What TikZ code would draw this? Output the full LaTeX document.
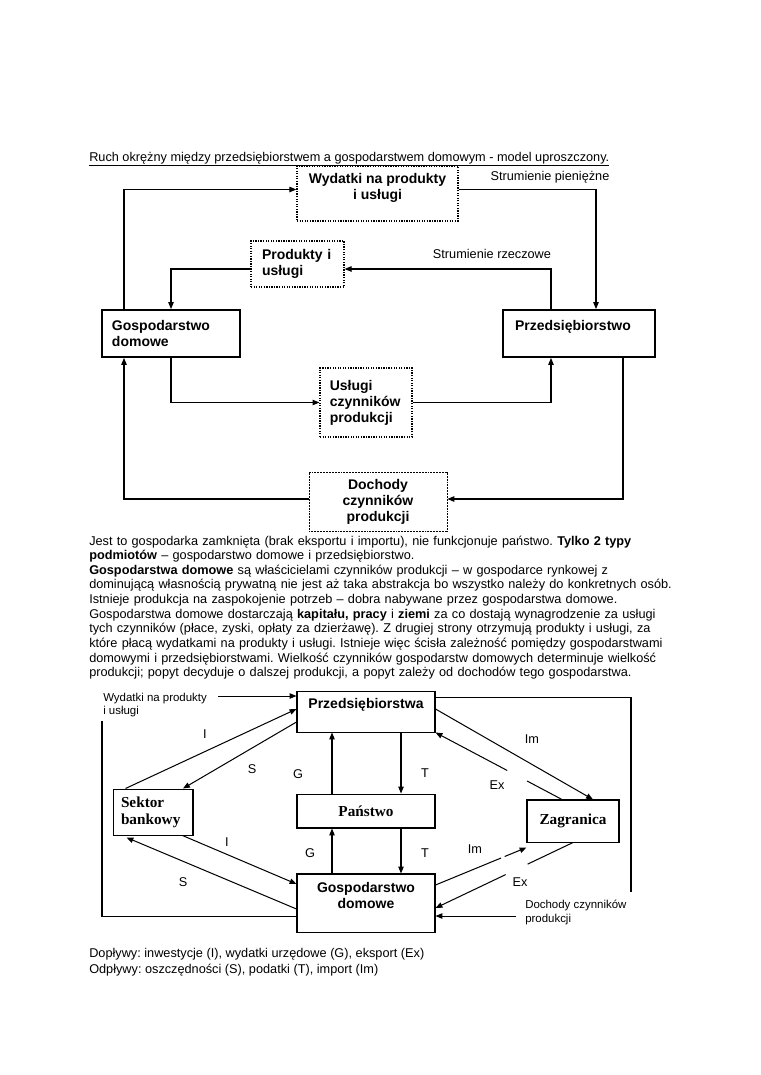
\documentclass[tikz,border=0pt]{standalone}
\usepackage{fontspec}
\setmainfont{Liberation Sans}
\newfontfamily\tnr{Liberation Serif}
\usetikzlibrary{arrows.meta, positioning, calc}
\frenchspacing

\begin{document}
\begin{tikzpicture}[x=0.27632mm, y=-0.27632mm, >={Triangle[length=1.9mm, width=1.5mm]}, flow/.style={line width=0.8pt}, box/.style={draw, line width=1.5pt, inner xsep=2.76mm, inner ysep=0pt, font=\fontsize{11}{12.5}\selectfont\bfseries}, dotbox/.style={box, line width=1pt, dash pattern=on 1pt off 1pt}, thinbox/.style={draw, line width=0.8pt, inner ysep=0pt, font=\fontsize{11}{12.5}\selectfont\bfseries}, serifbox/.style={thinbox, font=\fontsize{12}{13.5}\selectfont\tnr\bfseries}, txt/.style={inner sep=0pt, font=\fontsize{10}{11.5}\selectfont}, small/.style={inner sep=0pt, font=\fontsize{9}{10.5}\selectfont} ]
		\fill[white] (0,0) rectangle (760,1075);
		\node[txt, anchor=base west] (title) at (89,161) {\underline{Ruch okrężny między przedsiębiorstwem a gospodarstwem domowym - model uproszczony.}};
		% Model uproszczony
		\node[dotbox, align=center, minimum width=44.49mm, minimum height=15.2mm] (wyd) at (377.5,193.5) {Wydatki na produkty\\ i usługi\\[-2pt] \mbox{}};
		\node[dotbox, align=left, text width=19.62mm, inner xsep=3.04mm, minimum height=12.71mm] (prod) at (297.5,264) {Produkty i\\ usługi};
		\node[box, align=left, text width=32.61mm, minimum height=12.99mm] (dom) at (171,333.5) {Gospodarstwo\\ domowe};
		\node[box, align=left, text width=35.37mm, inner xsep=3.32mm, minimum height=12.99mm] (firm) at (579,333.5) {Przedsiębiorstwo\\ \mbox{}};
		\node[dotbox, align=left, text width=20mm, inner xsep=2.7mm, minimum height=19.07mm] (usl) at (366,402.5) {Usługi\\ czynników\\ produkcji};
		\node[dotbox, line width=0.6pt, dash pattern=on 0.6pt off 0.6pt, align=center, minimum width=38.13mm, minimum height=16.3mm] (doch) at (378,501.5) {Dochody\\ czynników\\ produkcji};
		\node[txt] (pien) at (550,177) {Strumienie pieniężne};
		\node[txt] (rzecz) at (492,254) {Strumienie rzeczowe};
		% Strumienie pieniezne
		\draw[flow, ->] ([shift={(-47,0)}]dom.north) |- ([shift={(0,-4)}]wyd.west);
		\draw[flow, ->] ([shift={(0,-4)}]wyd.east) -| ([shift={(17,0)}]firm.north);
		\draw[flow, ->] ([shift={(44,0)}]firm.south) |- ([shift={(0,-2.5)}]doch.east);
		\draw[flow, ->] ([shift={(0,-2.5)}]doch.west) -| ([shift={(-47,0)}]dom.south);
		% Strumienie rzeczowe
		\draw[flow, ->] ([shift={(-28,0)}]firm.north) |- ([shift={(0,5)}]prod.east);
		\draw[flow, ->] ([shift={(0,5)}]prod.west) -| (dom.north);
		\draw[flow, ->] (dom.south) |- (usl.west);
		\draw[flow, ->] (usl.east) -| ([shift={(-28,0)}]firm.south);
		% Opis
		\node[txt, anchor=base west, text width=185mm, align=left] (opis) at (89,545) {Jest to gospodarka zamknięta (brak eksportu i importu), nie funkcjonuje państwo. \textbf{Tylko 2 typy}\\ \textbf{podmiotów} – gospodarstwo domowe i przedsiębiorstwo.\\ \textbf{Gospodarstwa domowe} są właścicielami czynników produkcji – w gospodarce rynkowej z\\ dominującą własnością prywatną nie jest aż taka abstrakcja bo wszystko należy do konkretnych osób.\\ Istnieje produkcja na zaspokojenie potrzeb – dobra nabywane przez gospodarstwa domowe.\\ Gospodarstwa domowe dostarczają \textbf{kapitału, pracy} i \textbf{ziemi} za co dostają wynagrodzenie za usługi\\ tych czynników (płace, zyski, opłaty za dzierżawę). Z drugiej strony otrzymują produkty i usługi, za\\ które płacą wydatkami na produkty i usługi. Istnieje więc ścisła zależność pomiędzy gospodarstwami\\ domowymi i przedsiębiorstwami. Wielkość czynników gospodarstw domowych determinuje wielkość\\ produkcji; popyt decyduje o dalszej produkcji, a popyt zależy od dochodów tego gospodarstwa.};
		% Model z panstwem, bankami i zagranica
		\node[thinbox, align=center, minimum width=38.13mm, minimum height=11.33mm] (firm2) at (366,711.5) {Przedsiębiorstwa\\ \mbox{}};
		\node[serifbox, align=left, text width=17.68mm, inner xsep=2.21mm, minimum height=12.71mm] (bank) at (153,812) {Sektor\\ bankowy};
		\node[serifbox, minimum width=38.13mm, minimum height=9.39mm] (pan) at (366,811) {Państwo};
		\node[serifbox, minimum width=25.42mm, minimum height=11.61mm] (zagr) at (573,821) {Zagranica};
		\node[thinbox, align=center, minimum width=38.13mm, minimum height=16.03mm] (dom2) at (366,903) {Gospodarstwo\\ domowe\\ \mbox{}};
		\node[small, align=left, anchor=north west] (wydlbl) at (103,693) {Wydatki na produkty\\ i usługi};
		\node[small, align=left, anchor=north west] (dochlbl) at (525,900) {Dochody czynników\\ produkcji};
		\coordinate (wydin) at (218,696);
		\coordinate (wydout) at (102,721);
		\coordinate (dochout) at (631,892);
		\coordinate (dochin) at (516,916);
		% Wydatki i dochody
		\draw[flow, ->] (wydin) -- ([shift={(0,-15.5)}]firm2.west);
		\draw[flow] ([shift={(0,13)}]dom2.west) -| (wydout);
		\draw[flow] ([shift={(0,-14.5)}]firm2.east) -| (dochout);
		\draw[flow, ->] (dochin) -- ([shift={(0,13)}]dom2.east);
		% Sektor bankowy
		\draw[flow, ->] ([shift={(13,0)}]bank.north west) -- ([shift={(0,-2.5)}]firm2.west);
		\draw[flow, ->] ([shift={(0,10.5)}]firm2.west) -- ([shift={(30,0)}]bank.north);
		\draw[flow, ->] ([shift={(-11,0)}]bank.south east) -- ([shift={(0,-19)}]dom2.west);
		\draw[flow, ->] ([shift={(0,6)}]dom2.west) -- ([shift={(14,2)}]bank.south west);
		% Panstwo
		\draw[flow, ->] ([shift={(-34,0)}]pan.north) -- ([shift={(-34,0)}]firm2.south);
		\draw[flow, ->] ([shift={(35,0)}]firm2.south) -- ([shift={(35,0)}]pan.north);
		\draw[flow, ->] ([shift={(-34,0)}]dom2.north) -- ([shift={(-34,0)}]pan.south);
		\draw[flow, ->] ([shift={(35,0)}]pan.south) -- ([shift={(35,0)}]dom2.north);
		% Zagranica
		\draw[flow, ->] ([shift={(0,-2.5)}]firm2.east) -- ([shift={(20,0)}]zagr.north);
		\coordinate (exa) at ([shift={(-11,0)}]zagr.north);
		\draw[flow] (exa) -- ($(exa)!0.276!(firm2.south east)$);
		\draw[flow, ->] ($(exa)!0.433!(firm2.south east)$) -- (firm2.south east);
		\coordinate (ima) at ([shift={(0,-18)}]dom2.east);
		\coordinate (imb) at ([shift={(0,5)}]zagr.south west);
		\draw[flow] (ima) -- ($(ima)!0.72!(imb)$);
		\draw[flow, ->] ($(ima)!0.76!(imb)$) -- (imb);
		\coordinate (exb) at ([shift={(0,5)}]dom2.east);
		\draw[flow] (zagr.south) -- ($(zagr.south)!0.33!(exb)$);
		\draw[flow, ->] ($(zagr.south)!0.49!(exb)$) -- (exb);
		% Etykiety
		\node[txt] (i1) at (205,734) {I};
		\node[txt] (s1) at (252,769) {S};
		\node[txt] (g1) at (298,774) {G};
		\node[txt] (t1) at (425,773) {T};
		\node[txt] (im1) at (532,739) {Im};
		\node[txt] (ex1) at (497,785) {Ex};
		\node[txt] (i2) at (227,842) {I};
		\node[txt] (s2) at (183,882) {S};
		\node[txt] (g2) at (310,853) {G};
		\node[txt] (t2) at (425,853) {T};
		\node[txt] (im2) at (475,849) {Im};
		\node[txt] (ex2) at (520,882) {Ex};
		\node[txt, anchor=base west] (dop) at (89,957) {Dopływy: inwestycje (I), wydatki urzędowe (G), eksport (Ex)};
		\node[txt, anchor=base west] (odp) at (89,973) {Odpływy: oszczędności (S), podatki (T), import (Im)};
\end{tikzpicture}
\end{document}
